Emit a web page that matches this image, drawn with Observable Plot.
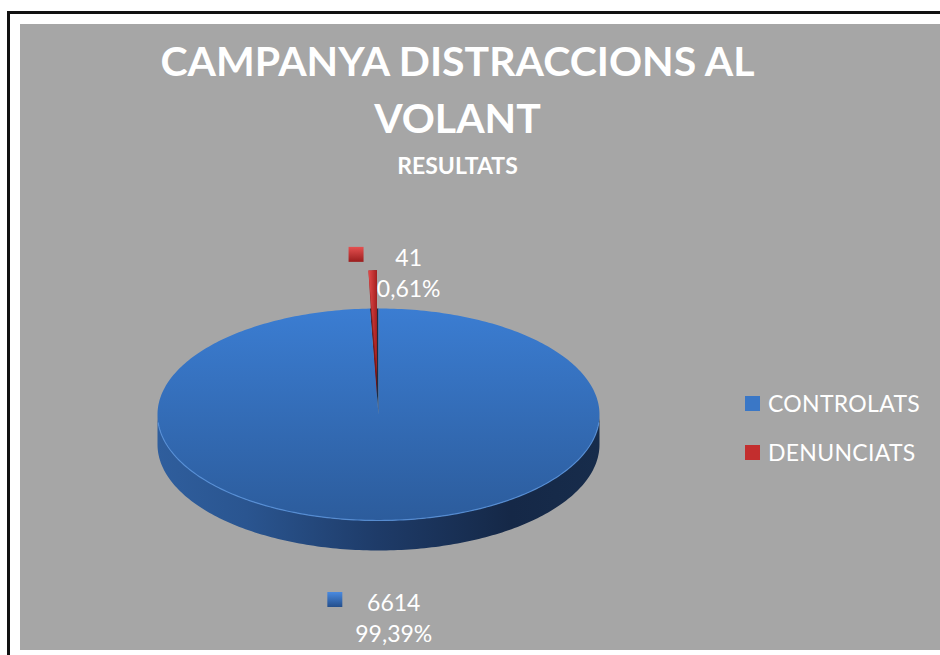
<!DOCTYPE html>
<html>
<head>
<meta charset="utf-8">
<script src="https://cdn.jsdelivr.net/npm/d3@7"></script>
<script src="https://cdn.jsdelivr.net/npm/@observablehq/plot@0.6"></script>
<style>
  html, body { margin: 0; padding: 0; background: #fff; }
  body { width: 940px; height: 655px; overflow: hidden; position: relative; font-family: Lato, "Open Sans", sans-serif; }
  #frame { position: absolute; left: 7px; top: 11px; width: 960px; height: 680px; border-left: 3px solid #111; border-top: 3px solid #111; }
  #bg { position: absolute; left: 20px; top: 24px; width: 920px; height: 626px; background: #a6a6a6; }
  #chart { position: absolute; left: 0; top: 0; }
  .t { position: absolute; left: 0; width: 915px; text-align: center; color: #fff; font-family: Lato, sans-serif; font-weight: 700; white-space: nowrap; }
  .lg-swatches { position: absolute; left: 745px; top: 389px; margin: 0 !important; font-family: Lato, sans-serif !important; font-size: 23px !important; color: #fff !important; }
  .lg-swatch { height: 28px; margin: 0 0 21px 0 !important; padding: 0 !important; display: flex; align-items: center; }
  .lg-swatch svg { margin-right: 8px !important; }
  .lg-swatch-label { color: #fff; letter-spacing: 0.3px; }
</style>
</head>
<body>
<div id="frame"></div>
<div id="bg"></div>
<div id="chart"></div>
<div class="t" style="top:40px;font-size:41px;line-height:41px;">CAMPANYA DISTRACCIONS AL</div>
<div class="t" style="top:97px;font-size:41px;line-height:41px;">VOLANT</div>
<div class="t" style="top:154px;font-size:23px;line-height:23px;">RESULTATS</div>
<script>
// ---- data ----
const categories = ["CONTROLATS", "DENUNCIATS"];
const values = [6614, 41];
const valueLabels = ["6614", "41"];
const percentLabels = ["99,39%", "0,61%"];
const explodedSlice = [false, true];
const palette = ["#3a77c6", "#c32e2e"];

// ---- layout ----
const W = 940, H = 655;
const CX = 378, CY = 414, RX = 221, RY = 106, DEPTH_PX = 30, EXPLODE = 0.36;
const xDomain = [-CX / RX, (W - CX) / RX];
const yDomain = [-(H - CY) / RY, CY / RY];
const depth = DEPTH_PX / RY;
const ux = 1 / RX, uy = 1 / RY; // data units per pixel

const arcs = d3.pie().sort(null).value(d => d)(values);

function arcPts(a0, a1, ox, oy, dy) {
  const n = Math.max(2, Math.ceil(Math.abs(a1 - a0) / (Math.PI / 180)) + 1);
  return d3.range(n).map(i => {
    const a = a0 + (a1 - a0) * i / (n - 1);
    return {x: ox + Math.sin(a), y: oy + Math.cos(a) + dy};
  });
}

const shapesBack = [];
const shapesFront = [];
const labelRows = [];

arcs.forEach((arc, i) => {
  const s = arc.startAngle, e = arc.endAngle, mid = (s + e) / 2;
  const ox = explodedSlice[i] ? EXPLODE * Math.sin(mid) : 0;
  const oy = explodedSlice[i] ? EXPLODE * Math.cos(mid) : 0;
  if (explodedSlice[i]) {
    shapesBack.push({fill: "#1b2c45", pts: [{x: 0, y: 0}, ...arcPts(s, e, 0, 0, 0), {x: Math.sin(e), y: Math.cos(e) - depth}, {x: 0, y: -depth}]});
    shapesBack.push({fill: "url(#gRedSide)", pts: [...arcPts(s, e, ox, oy, 0), {x: ox, y: oy - depth}]});
    shapesBack.push({fill: "url(#gRedTop)", pts: [{x: ox, y: oy}, ...arcPts(s, e, ox, oy, 0)]});
  } else {
    const a0 = Math.max(s, Math.PI / 2), a1 = Math.min(e, 3 * Math.PI / 2);
    shapesFront.push({fill: "url(#gBlueSide)", pts: [...arcPts(a0, a1, 0, 0, 0), ...arcPts(a1, a0, 0, 0, -depth)]});
    shapesFront.push({fill: "url(#gBlueTop)", pts: [{x: 0, y: 0}, ...arcPts(s, e, 0, 0, 0)]});
  }
  const top = Math.cos(mid) > 0;
  const rx = ox + Math.sin(mid), ry = oy + Math.cos(mid) - (top ? 0 : depth);
  const tx = rx + (top ? 36 : 11) * ux;
  const ty1 = ry - (top ? -12 : 53) * uy;
  const ty2 = ty1 - 31 * uy;
  const maxChars = Math.max(valueLabels[i].length, percentLabels[i].length);
  const keyX = tx - (0.55 * 23 * maxChars / 2 + 21) * ux;
  labelRows.push({cat: categories[i], tx, ty1, ty2, keyX, keyY: ty1 + 4 * uy, v: valueLabels[i], p: percentLabels[i]});
});

const rim = arcPts(Math.PI / 2 + 0.08, 3 * Math.PI / 2 - 0.08, 0, 0, 0);

const defs = () => {
  const d = d3.create("svg:defs");
  const lg = (id, x2, y2, stops) => {
    const g = d.append("linearGradient").attr("id", id).attr("x1", 0).attr("y1", 0).attr("x2", x2).attr("y2", y2);
    stops.forEach(([o, c]) => g.append("stop").attr("offset", o).attr("stop-color", c));
  };
  lg("gBlueTop", 0, 1, [["0%", "#3b7dd2"], ["100%", "#2c5c9c"]]);
  lg("gBlueSide", 1, 0, [["0%", "#2f5e9d"], ["20%", "#2a5590"], ["50%", "#1e3b68"], ["80%", "#152847"], ["100%", "#172c4b"]]);
  lg("gRedTop", 1, 0, [["0%", "#e24a4a"], ["100%", "#a52020"]]);
  lg("gRedSide", 1, 0, [["0%", "#b02424"], ["100%", "#6e1313"]]);
  lg("gKeyBlue", 0, 1, [["0%", "#4a8ae0"], ["100%", "#244f8c"]]);
  lg("gKeyRed", 0, 1, [["0%", "#e55050"], ["100%", "#9a1d1d"]]);
  return d.node();
};

const shapeMark = sh => Plot.line(sh.pts, {x: "x", y: "y", fill: sh.fill, stroke: "none", curve: "linear-closed"});

const plot = Plot.plot({
  width: W,
  height: H,
  margin: 0,
  x: {domain: xDomain, axis: null},
  y: {domain: yDomain, axis: null},
  style: {background: "transparent", overflow: "visible"},
  marks: [
    defs,
    ...shapesBack.map(shapeMark),
    ...shapesFront.map(shapeMark),
    Plot.line(rim, {x: "x", y: "y", stroke: "#5b96e0", strokeWidth: 1.2, strokeOpacity: 0.8}),
    Plot.dot(labelRows, {x: "keyX", y: "keyY", symbol: "square", r: 8.46, fill: d => d.cat === categories[0] ? "url(#gKeyBlue)" : "url(#gKeyRed)", stroke: "none"}),
    Plot.text(labelRows, {x: "tx", y: "ty1", text: "v", fill: "#fff", fontSize: 23, fontFamily: "Lato, sans-serif"}),
    Plot.text(labelRows, {x: "tx", y: "ty2", text: "p", fill: "#fff", fontSize: 23, fontFamily: "Lato, sans-serif"})
  ]
});
document.getElementById("chart").appendChild(plot);

const legend = Plot.legend({
  color: {type: "ordinal", domain: categories, range: palette},
  legend: "swatches",
  columns: 1,
  swatchSize: 15,
  className: "lg"
});
document.body.appendChild(legend);
</script>
</body>
</html>
